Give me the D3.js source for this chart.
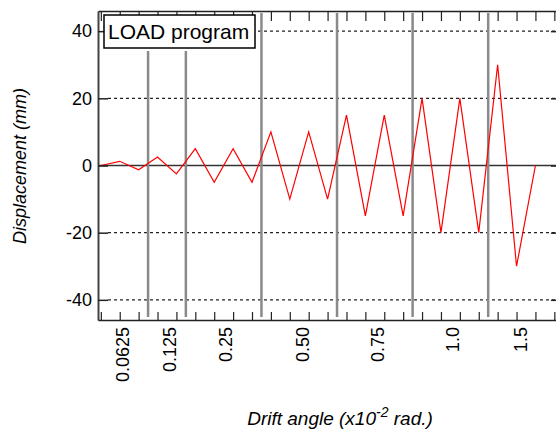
<!DOCTYPE html>
<html>
<head>
<meta charset="utf-8">
<script src="https://cdn.jsdelivr.net/npm/d3@7"></script>
<style>
  body { margin: 0; background: #fff; }
  svg { font-family: "Liberation Sans", Arial, sans-serif; }
</style>
</head>
<body>
<div id="chart"></div>
<script>
// loading protocol: displacement at each step (mm)
var displacement = [0, 1.25, -1.25, 2.5, -2.5, 5, -5, 5, -5, 10, -10, 10, -10,
                    15, -15, 15, -15, 20, -20, 20, -20, 30, -30, 0];
// boundaries between drift-angle groups (in step index)
var groupBreaks = [2.5, 4.5, 8.5, 12.5, 16.5, 20.5];
// drift angle labels and the step index they sit on
var driftLabels = ["0.0625", "0.125", "0.25", "0.50", "0.75", "1.0", "1.5"];
var driftLabelAt = [1.15, 3.6, 6.6, 10.65, 14.65, 18.6, 22.2];
var yTicks = [-40, -20, 0, 20, 40];
var stepTicks = d3.range(0, 25);

var width = 556, height = 430;
var plot = { left: 98, right: 560, top: 11, bottom: 320 };

var svg = d3.select("#chart").append("svg")
    .attr("width", width)
    .attr("height", height);

var x = d3.scaleLinear().domain([-0.15, 24.3]).range([plot.left, plot.right]);
var y = d3.scaleLinear().domain([-46, 46]).range([plot.bottom, plot.top]);

// dashed grid
svg.append("g")
    .selectAll("line")
    .data(yTicks.filter(function(d) { return d != 0; }))
    .enter().append("line")
    .attr("x1", plot.left + 10)
    .attr("x2", plot.right)
    .attr("y1", function(d) { return y(d); })
    .attr("y2", function(d) { return y(d); })
    .attr("stroke", "#222")
    .attr("stroke-width", 1.2)
    .attr("stroke-dasharray", "3,3");

// zero line
svg.append("line")
    .attr("x1", plot.left).attr("x2", plot.right)
    .attr("y1", y(0)).attr("y2", y(0))
    .attr("stroke", "#333")
    .attr("stroke-width", 1.5);

// group separators
svg.append("g")
    .selectAll("line")
    .data(groupBreaks)
    .enter().append("line")
    .attr("x1", function(d) { return x(d); })
    .attr("x2", function(d) { return x(d); })
    .attr("y1", function(d, i) { return i < 2 ? 51 : 13; })
    .attr("y2", 317)
    .attr("stroke", "#8a8a8a")
    .attr("stroke-width", 2.5);

// load line
var line = d3.line()
    .x(function(d, i) { return x(i); })
    .y(function(d) { return y(d); });

svg.append("path")
    .datum(displacement)
    .attr("d", line)
    .attr("fill", "none")
    .attr("stroke", "red")
    .attr("stroke-width", 1.2);

// axes
var yAxis = d3.axisLeft(y)
    .tickValues(yTicks)
    .tickFormat(function(d) { return String(d); })
    .tickSizeInner(-10)
    .tickSizeOuter(0)
    .tickPadding(6);

var gy = svg.append("g")
    .attr("transform", "translate(" + plot.left + ",0)")
    .call(yAxis);
gy.select(".domain").attr("stroke", "#444").attr("stroke-width", 2);
gy.selectAll(".tick line").attr("stroke", "#222").attr("stroke-width", 1.5);
gy.selectAll("text").style("font-size", "18px").attr("fill", "#000");

var yAxisR = d3.axisRight(y)
    .tickValues(yTicks)
    .tickFormat("")
    .tickSizeInner(-9)
    .tickSizeOuter(0);
var gyr = svg.append("g")
    .attr("transform", "translate(" + plot.right + ",0)")
    .call(yAxisR);
gyr.select(".domain").attr("stroke", "#222").attr("stroke-width", 1.5);
gyr.selectAll(".tick line").attr("stroke", "#222").attr("stroke-width", 1.5);

var xTop = d3.axisTop(x)
    .tickValues(stepTicks)
    .tickFormat("")
    .tickSizeInner(-10)
    .tickSizeOuter(0);
var gxt = svg.append("g")
    .attr("transform", "translate(0," + plot.top + ")")
    .call(xTop);
gxt.select(".domain").attr("stroke", "#222").attr("stroke-width", 1.5);
gxt.selectAll(".tick line").attr("stroke", "#222").attr("stroke-width", 1.2);

var xBottom = d3.axisBottom(x)
    .tickValues(stepTicks)
    .tickFormat("")
    .tickSizeInner(-8)
    .tickSizeOuter(0);
var gxb = svg.append("g")
    .attr("transform", "translate(0," + plot.bottom + ")")
    .call(xBottom);
gxb.select(".domain").attr("stroke", "#222").attr("stroke-width", 1.5);
gxb.selectAll(".tick line").attr("stroke", "#222").attr("stroke-width", 1.2);

// drift angle labels
var xLabels = d3.axisBottom(x)
    .tickValues(driftLabelAt)
    .tickFormat(function(d, i) { return driftLabels[i]; })
    .tickSize(0);
var gxl = svg.append("g")
    .attr("transform", "translate(0," + plot.bottom + ")")
    .call(xLabels);
gxl.select(".domain").remove();
gxl.selectAll("text")
    .attr("transform", "rotate(-90)")
    .attr("x", -7)
    .attr("y", 0)
    .attr("dy", "0.35em")
    .style("text-anchor", "end")
    .style("font-size", "18px")
    .attr("fill", "#000");

// legend box
svg.append("rect")
    .attr("x", 104).attr("y", 15)
    .attr("width", 151).attr("height", 33)
    .attr("fill", "#fff")
    .attr("stroke", "#000")
    .attr("stroke-width", 1.5);
svg.append("text")
    .attr("x", 108).attr("y", 39)
    .style("font-size", "21px")
    .text("LOAD program");

// axis titles
svg.append("text")
    .attr("transform", "translate(26,166) rotate(-90)")
    .style("text-anchor", "middle")
    .style("font-size", "18px")
    .style("font-style", "italic")
    .text("Displacement (mm)");

var xt = svg.append("text")
    .attr("x", 340).attr("y", 425)
    .style("text-anchor", "middle")
    .style("font-size", "19px")
    .style("font-style", "italic");
xt.append("tspan").text("Drift angle (x10");
xt.append("tspan").attr("dy", -8).style("font-size", "14px").text("-2");
xt.append("tspan").attr("dy", 8).text(" rad.)");
</script>
</body>
</html>
